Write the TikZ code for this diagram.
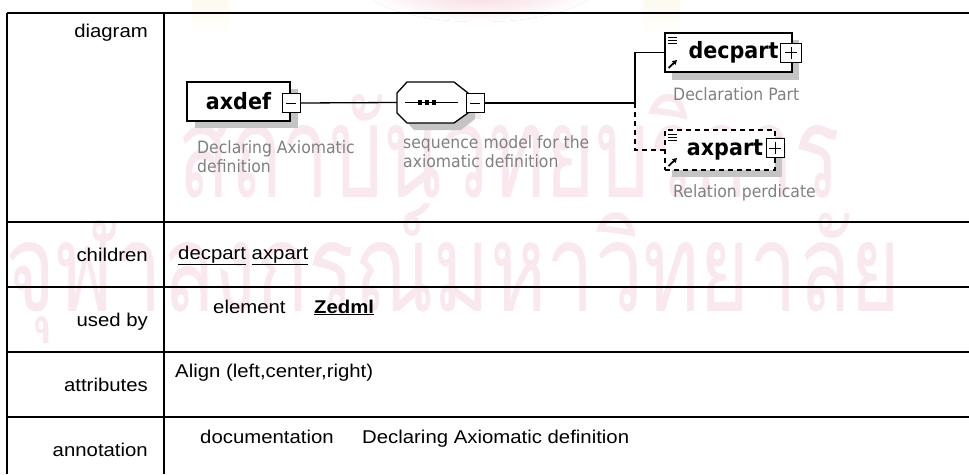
\documentclass[tikz,border=0pt]{standalone}
\usepackage{fontspec}
\setmainfont{Liberation Sans}
\newfontfamily\cellfont[FakeStretch=1.1]{Liberation Sans}
\newfontfamily\schemafont[FakeStretch=0.92]{DejaVu Sans}
\newfontfamily\thaimark[Script=Thai]{Loma}
\usetikzlibrary{arrows.meta,calc}

\definecolor{capgray}{RGB}{128,128,128}
\definecolor{shadegray}{RGB}{196,196,196}
\definecolor{markpink}{RGB}{249,233,239}
\definecolor{logopink}{RGB}{244,204,214}
\definecolor{raycream}{RGB}{253,250,238}

\tikzset{
  elembox/.style={draw, line width=1.3pt, fill=white, inner sep=0pt,
    font=\schemafont\bfseries\fontsize{22.5}{24}\selectfont},
  toggle/.style={draw, line width=1pt, fill=white, minimum width=18pt,
    minimum height=19pt, inner sep=0pt},
  caption/.style={font=\schemafont\fontsize{17}{19}\selectfont, text=capgray,
    align=left, inner sep=0pt, anchor=north west},
  shade/.style={fill=shadegray, draw=none},
  link/.style={line width=1.3pt},
  celltext/.style={font=\cellfont\fontsize{18.5}{22}\selectfont, inner sep=0pt},
  rule/.style={line width=1.3pt},
  watermark/.style={inner sep=0pt, text=markpink},
}

\begin{document}
\begin{tikzpicture}[x=1pt,y=-1pt]
\useasboundingbox (0,0) rectangle (969,474);

% faint page watermark behind the table
\shade[inner color=logopink, outer color=white] (480,-18) ellipse (120 and 40);
\shade[top color=raycream, bottom color=white] (192,0) rectangle (229,36);
\shade[top color=raycream, bottom color=white] (643,0) rectangle (680,36);
\node[watermark, anchor=west] (wmTop) at (178,146)
  {\resizebox*{662pt}{104pt}{\thaimark สถาบันวิทยบริการ}};
\node[watermark, anchor=west] (wmBottom) at (5,274)
  {\resizebox*{895pt}{140pt}{\thaimark จุฬาลงกรณ์มหาวิทยาลัย}};

% table rules
\draw[rule] (7,13) -- (969,13);
\draw[rule] (7,13) -- (7,474);
\draw[rule] (164,13) -- (164,474);
\foreach \yy in {222,287,352,417} \draw[rule] (7,\yy) -- (969,\yy);

% row labels
\node[celltext, anchor=base east] (lblDiagram) at (148,37) {diagram};
\node[celltext, anchor=base east] (lblChildren) at (148,261) {children};
\node[celltext, anchor=base east] (lblUsedBy) at (148,326) {used by};
\node[celltext, anchor=base east] (lblAttr) at (148,391) {attributes};
\node[celltext, anchor=base east] (lblAnno) at (148,456) {annotation};

% row contents
\node[celltext, anchor=base west] (kids) at (178,259) {\underline{decpart} \underline{axpart}};
\node[celltext, anchor=base west] (useKind) at (213,313) {element};
\node[celltext, anchor=base west] (useName) at (314,313) {\bfseries\underline{Zedml}};
\node[celltext, anchor=base west] (attrs) at (175,377) {Align (left,center,right)};
\node[celltext, anchor=base west] (docKind) at (200,443) {documentation};
\node[celltext, anchor=base west] (docText) at (362,443) {Declaring Axiomatic definition};

% ---- schema diagram ----
% axdef element
\fill[shade] (195,89) rectangle (298,128);
\node[elembox, minimum width=103pt, minimum height=39pt] (axdef) at (238.5,101.5) {axdef};
\node[toggle] (axdefT) at (291,103) {};
\draw[line width=1pt] ([xshift=-5pt]axdefT.center) -- ([xshift=5pt]axdefT.center);
\node[caption] (axdefCap) at (197,140) {Declaring Axiomatic\\definition};

% sequence compositor
\fill[shade] (414,88) -- (461,88) -- (475,99) -- (475,119) -- (461,130) -- (414,130) -- (404,119) -- (404,99) -- cycle;
\node[minimum width=71pt, minimum height=41pt, inner sep=0pt] (seq) at (432.5,102.5) {};
\draw[link, fill=white] (407,82) -- (454,82) -- (468,93) -- (468,113) -- (454,123) -- (407,123) -- (397,113) -- (397,93) -- cycle;
\draw[line width=1.3pt] (405,102.5) -- (458,102.5);
\foreach \dx in {420,427,434} \fill (\dx-2.2,100.3) rectangle (\dx+2.2,104.7);
\node[toggle] (seqT) at (475,103) {};
\draw[line width=1pt] ([xshift=-5pt]seqT.center) -- ([xshift=5pt]seqT.center);
\node[caption] (seqCap) at (403,135) {sequence model for the\\axiomatic definition};

% decpart element
\fill[shade] (672,40) rectangle (799,80);
\node[elembox, minimum width=127pt, minimum height=39pt] (decpart) at (728.5,52.5) {\hspace*{10pt}decpart};
\node[toggle, minimum width=21pt] (decpartT) at (791,52.5) {};
\draw[line width=1pt] ([xshift=-6pt]decpartT.center) -- ([xshift=6pt]decpartT.center)
  ([yshift=-6pt]decpartT.center) -- ([yshift=6pt]decpartT.center);
\foreach \yy in {37,40,43} \draw[line width=0.9pt] (668,\yy) -- (677,\yy);
\draw[line width=1.8pt, -{Triangle[length=4.5pt,width=5pt]}] (668.5,68) -- (677,60);
\node[caption] (decpartCap) at (673,87) {Declaration Part};

% axpart element (optional)
\fill[shade] (672,137) rectangle (782,177);
\node[elembox, dash pattern=on 5pt off 4pt, minimum width=110pt, minimum height=40pt] (axpart) at (720,150) {\hspace*{10pt}axpart};
\node[toggle] (axpartT) at (775,148) {};
\draw[line width=1pt] ([xshift=-6pt]axpartT.center) -- ([xshift=6pt]axpartT.center)
  ([yshift=-6pt]axpartT.center) -- ([yshift=6pt]axpartT.center);
\foreach \yy in {134,137,140} \draw[line width=0.9pt] (668,\yy) -- (677,\yy);
\draw[line width=1.8pt, -{Triangle[length=4.5pt,width=5pt]}] (668.5,166) -- (677,158);
\node[caption] (axpartCap) at (673,184) {Relation perdicate};

% connectors
\coordinate (fork) at (635,103);
\draw[link] (axdefT.east) -- (seq.west);
\draw[link] (seqT.east) -- (fork) |- (decpart.west);
\draw[link, dash pattern=on 5pt off 4pt] (fork) |- (axpart.west);
\end{tikzpicture}
\end{document}
